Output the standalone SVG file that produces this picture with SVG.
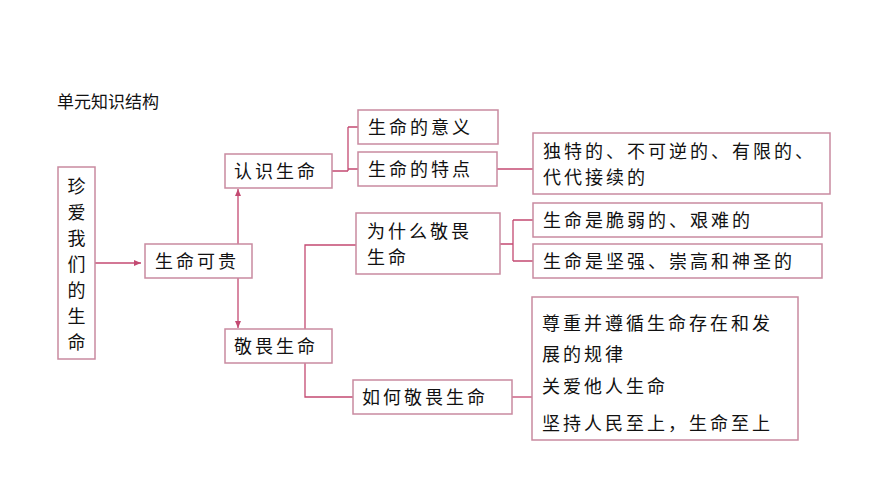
<svg xmlns="http://www.w3.org/2000/svg" width="870" height="489" viewBox="0 0 870 489">
<defs><style>
.b{fill:#fff;stroke:#c98aa0;stroke-width:1.5}
.t{font-family:"Noto Sans CJK SC",sans-serif;font-size:18px;letter-spacing:3px;fill:#111}
.c{fill:none;stroke:#c44a72;stroke-width:1.3}
</style>
<marker id="a" markerWidth="8" markerHeight="8" refX="7" refY="4" orient="auto" markerUnits="userSpaceOnUse"><path d="M0,1 L7,4 L0,7 z" fill="#c44a72"/></marker></defs>
<rect width="870" height="489" fill="#fff"/>
<text x="57" y="108" class="t" style="font-size:17px;letter-spacing:0">单元知识结构</text>
<g id="connectors">
<path class="c" d="M95,263 H141" marker-end="url(#a)"/>
<path class="c" d="M238,244 V189" marker-end="url(#a)"/>
<path class="c" d="M238,278 V328" marker-end="url(#a)"/>
<path class="c" d="M332,171 H348 M348,127 V171 M348,127 H358 M348,169 H358"/>
<path class="c" d="M497,169 H533"/>
<path class="c" d="M305,329 V245 H356 M305,363 V397 H353"/>
<path class="c" d="M500,244 H513 M513,220 V261 M513,220 H533 M513,261 H533"/>
<path class="c" d="M512,397 H532"/>
</g>
<g id="n0"><rect class="b" x="58" y="167" width="37" height="192"/>
<text class="t" x="76.5" text-anchor="middle" style="letter-spacing:0"><tspan y="193">珍</tspan><tspan x="76.5" y="219">爱</tspan><tspan x="76.5" y="245">我</tspan><tspan x="76.5" y="271">们</tspan><tspan x="76.5" y="297">的</tspan><tspan x="76.5" y="323">生</tspan><tspan x="76.5" y="349">命</tspan></text></g>
<g id="n1"><rect class="b" x="145" y="244" width="107" height="34"/><text class="t" x="155" y="268">生命可贵</text></g>
<g id="n2"><rect class="b" x="225" y="154" width="107" height="34"/><text class="t" x="234" y="178">认识生命</text></g>
<g id="n3"><rect class="b" x="225" y="329" width="107" height="34"/><text class="t" x="234" y="353">敬畏生命</text></g>
<g id="n4"><rect class="b" x="358" y="110" width="140" height="34"/><text class="t" x="368" y="134">生命的意义</text></g>
<g id="n5"><rect class="b" x="358" y="152" width="139" height="34"/><text class="t" x="368" y="176">生命的特点</text></g>
<g id="n6"><rect class="b" x="356" y="213" width="144" height="61"/><text class="t" x="367" y="238">为什么敬畏</text><text class="t" x="367" y="264">生命</text></g>
<g id="n7"><rect class="b" x="353" y="380" width="159" height="34"/><text class="t" x="362" y="404">如何敬畏生命</text></g>
<g id="n8"><rect class="b" x="533" y="133" width="297" height="61"/><text class="t" x="543" y="158">独特的、不可逆的、有限的、</text><text class="t" x="543" y="184">代代接续的</text></g>
<g id="n9"><rect class="b" x="533" y="203" width="289" height="34"/><text class="t" x="543" y="227">生命是脆弱的、艰难的</text></g>
<g id="n10"><rect class="b" x="533" y="244" width="289" height="34"/><text class="t" x="543" y="268">生命是坚强、崇高和神圣的</text></g>
<g id="n11"><rect class="b" x="532" y="297" width="266" height="143"/>
<text class="t" x="542" y="330">尊重并遵循生命存在和发</text><text class="t" x="542" y="361">展的规律</text><text class="t" x="542" y="393">关爱他人生命</text><text class="t" x="542" y="430">坚持人民至上，生命至上</text></g>
</svg>
